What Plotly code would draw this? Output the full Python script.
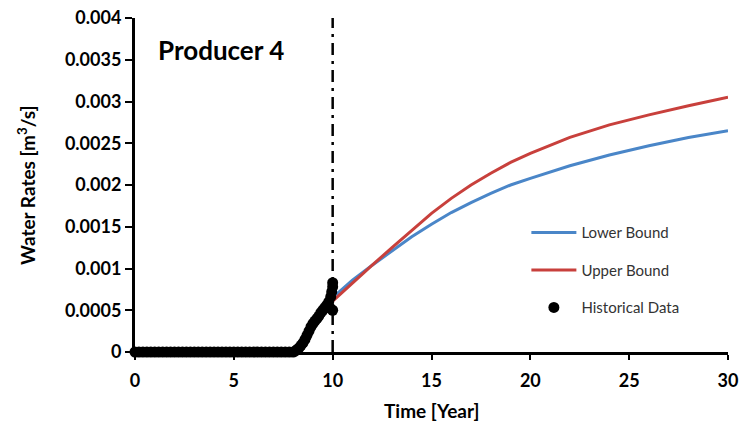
import plotly.graph_objects as go

# Forecast bounds
bound_x = [10, 11, 12, 13, 14, 15, 16, 17, 18, 19, 20, 22, 24, 26, 28, 30]
lower_y = [0.00065, 0.00086, 0.00104, 0.00121, 0.00138, 0.00153, 0.00167, 0.00179,
           0.0019, 0.002, 0.00208, 0.00223, 0.00236, 0.00247, 0.00257, 0.00265]
upper_y = [0.00061, 0.00083, 0.00104, 0.00125, 0.00146, 0.00166, 0.00184, 0.002,
           0.00214, 0.00227, 0.00238, 0.00257, 0.00272, 0.00284, 0.00295, 0.00305]

# Historical data
hist_x = [0.0, 0.2, 0.4, 0.6, 0.8, 1.0, 1.2, 1.4, 1.6, 1.8, 2.0, 2.2, 2.4, 2.6, 2.8,
          3.0, 3.2, 3.4, 3.6, 3.8, 4.0, 4.2, 4.4, 4.6, 4.8, 5.0, 5.2, 5.4, 5.6, 5.8,
          6.0, 6.2, 6.4, 6.6, 6.8, 7.0, 7.2, 7.4, 7.6, 7.8, 8.0, 8.1, 8.2, 8.3, 8.4,
          8.5, 8.6, 8.7, 8.8, 8.9, 9.0, 9.1, 9.2, 9.3, 9.4, 9.5, 9.6, 9.7, 9.8, 9.9,
          9.95, 10.0, 10.0, 10.0, 9.9]
hist_y = [0, 0, 0, 0, 0, 0, 0, 0, 0, 0, 0, 0, 0, 0, 0,
          0, 0, 0, 0, 0, 0, 0, 0, 0, 0, 0, 0, 0, 0, 0,
          0, 0, 0, 0, 0, 0, 0, 0, 0, 0, 0.0, 0.00001, 0.00003, 0.00005, 0.00008,
          0.00011, 0.00015, 0.0002, 0.00025, 0.0003, 0.00034, 0.00037, 0.0004, 0.00043, 0.00047,
          0.0005, 0.00053, 0.00056, 0.0006, 0.00066, 0.00072, 0.00078, 0.00083, 0.0005, 0.00052]

x_ticks = [0, 5, 10, 15, 20, 25, 30]
y_ticks = [0, 0.0005, 0.001, 0.0015, 0.002, 0.0025, 0.003, 0.0035, 0.004]
y_tick_labels = ["0", "0.0005", "0.001", "0.0015", "0.002", "0.0025", "0.003", "0.0035", "0.004"]
forecast_start = 10

FONT = "Lato"

fig = go.Figure()
fig.add_trace(go.Scatter(x=bound_x, y=lower_y, mode="lines", name="Lower Bound",
                         line=dict(color="#4a86c8", width=3), legendgroup="a"))
fig.add_trace(go.Scatter(x=bound_x, y=upper_y, mode="lines", name="Upper Bound",
                         line=dict(color="#c8403c", width=3), legendgroup="b"))
fig.add_trace(go.Scatter(x=hist_x, y=hist_y, mode="markers", name="Historical Data",
                         marker=dict(color="black", size=11), cliponaxis=False,
                         legendgroup="c"))

fig.add_shape(type="line", x0=forecast_start, x1=forecast_start, y0=0, y1=0.004,
              xref="x", yref="y",
              line=dict(color="black", width=2.5, dash="12px,6px,3px,6px"))

fig.add_annotation(x=0.035, y=0.905, xref="paper", yref="paper", text="<b>Producer 4</b>",
                   showarrow=False, xanchor="left", yanchor="middle",
                   font=dict(family=FONT, size=26, color="black"))
# axis titles
fig.add_annotation(x=0.5, y=-0.174, xref="paper", yref="paper", text="<b>Time [Year]</b>",
                   showarrow=False, xanchor="center", yanchor="middle",
                   font=dict(family=FONT, size=19, color="black"))
fig.add_annotation(x=-0.184, y=0.5, xref="paper", yref="paper",
                   text="<b>Water Rates [m<sup>3</sup>/s]</b>", textangle=-90,
                   showarrow=False, xanchor="center", yanchor="middle",
                   font=dict(family=FONT, size=19, color="black"))

fig.update_layout(
    width=747, height=423,
    margin=dict(l=135, r=19, t=18, b=71, autoexpand=False),
    paper_bgcolor="white", plot_bgcolor="white",
    font=dict(family=FONT, color="black"),
    showlegend=True,
    legend=dict(x=0.66, y=0.245, xanchor="left", yanchor="middle",
                font=dict(family=FONT, size=15, color="#333"),
                tracegroupgap=15, itemwidth=45, bgcolor="rgba(0,0,0,0)"),
    xaxis=dict(range=[0, 30], tickvals=x_ticks, showline=True, linecolor="black",
               linewidth=3, ticks="outside", ticklen=5, tickwidth=2, tickcolor="black",
               showgrid=False, zeroline=False, ticklabelstandoff=5, automargin=False,
               tickfont=dict(family=FONT, size=18, color="black", weight="bold")),
    yaxis=dict(range=[0, 0.004], tickvals=y_ticks, ticktext=y_tick_labels,
               showline=True, linecolor="black", linewidth=3, ticks="outside",
               ticklen=7, tickwidth=2, tickcolor="black", showgrid=False, zeroline=False,
               automargin=False,
               tickfont=dict(family=FONT, size=18, color="black", weight="bold")),
)

fig.write_html("out.html")
